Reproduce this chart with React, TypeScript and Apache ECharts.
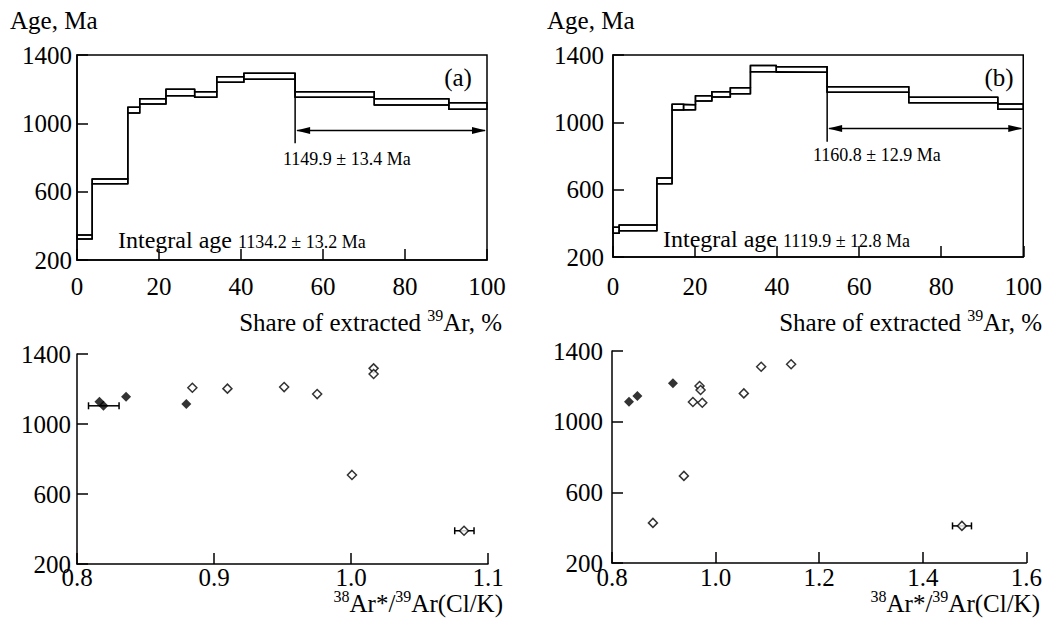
import React, { useEffect, useRef } from "react";
import * as echarts from "echarts";

const FONT = "Liberation Serif";

// ---------- (a) age spectrum ----------
const stepEdgesA = [0, 3.7, 12.4, 15.3, 21.7, 28.7, 34.1, 40.7, 53.2, 72.5, 90.7, 100];
const ageLowA = [323, 647, 1060, 1113, 1162, 1152, 1240, 1258, 1152, 1107, 1082];
const ageHighA = [346, 674, 1094, 1144, 1199, 1185, 1273, 1293, 1185, 1144, 1121];
// plateau: [start %, end %, arrow age, line top age, line bottom age]
const plateauA = [53.2, 100, 958, 1293, 883];

// ---------- (b) age spectrum ----------
const stepEdgesB = [0, 1.5, 10.7, 14.4, 17.2, 20.1, 24.1, 28.6, 33.5, 39.8, 52.2, 72.1, 93.8, 100];
const ageLowB = [341, 356, 635, 1073, 1075, 1127, 1150, 1170, 1301, 1297, 1178, 1117, 1077];
const ageHighB = [376, 390, 669, 1107, 1105, 1158, 1182, 1206, 1337, 1330, 1212, 1149, 1109];
const plateauB = [52.2, 100, 964, 1330, 885];

// ---------- (c) correlation, sample a ----------
const filledXC = [0.8164, 0.8193, 0.8358, 0.8798];
const filledYC = [1127, 1104, 1156, 1114];
const openXC = [0.8842, 0.9098, 0.9512, 0.9753, 1.0165, 1.0165, 1.0007, 1.0825];
const openYC = [1207, 1202, 1211, 1171, 1318, 1286, 709, 390];
const errLoC = [0.8084, 1.0757];
const errHiC = [0.8307, 1.0898];
const errYC = [1104, 390];

// ---------- (d) correlation, sample b ----------
const filledXD = [0.8328, 0.849, 0.9176];
const filledYD = [1113, 1145, 1217];
const openXD = [0.879, 0.9388, 0.9562, 0.969, 0.971, 0.9743, 1.0545, 1.088, 1.1458, 1.4755];
const openYD = [427, 693, 1111, 1202, 1179, 1107, 1160, 1311, 1325, 410];
const errLoD = [1.4574];
const errHiD = [1.494];
const errYD = [410];

const ageTicks = { min: 200, max: 1400, interval: 400 };

// axis titles: [text, isSuperscript]
const titleTop: [string, boolean][] = [["Share of extracted ", false], ["39", true], ["Ar, %", false]];
const titleBottom: [string, boolean][] = [["38", true], ["Ar*/", false], ["39", true], ["Ar(Cl/K)", false]];

const stepData = (edges: number[], lo: number[], hi: number[]) =>
  lo.map((l, i) => [edges[i], edges[i + 1], l, hi[i]]);

// continuous step envelope (used with step: "end")
const envelope = (edges: number[], vals: number[]) => {
  const pts = vals.map((v, i) => [edges[i], v]);
  pts.push([edges[edges.length - 1], vals[vals.length - 1]]);
  return pts;
};

const zip = (xs: number[], ys: number[]) => xs.map((x, i) => [x, ys[i]]);

const stepRender = (params: any, api: any) => {
  const p0 = api.coord([api.value(0), api.value(3)]);
  const p1 = api.coord([api.value(1), api.value(2)]);
  return {
    type: "rect",
    shape: { x: p0[0], y: p0[1], width: p1[0] - p0[0], height: p1[1] - p0[1] },
    style: { fill: "none", stroke: "#000", lineWidth: 1.5 },
  };
};

const plateauRender = (params: any, api: any) => {
  const s = api.value(0), e = api.value(1), ya = api.value(2), yt = api.value(3), yb = api.value(4);
  const top = api.coord([s, yt]);
  const bot = api.coord([s, yb]);
  const a0 = api.coord([s, ya]);
  const a1 = api.coord([e, ya]);
  const L = 15, H = 3.5;
  const st = { stroke: "#000", lineWidth: 1.5 };
  return {
    type: "group",
    children: [
      { type: "line", shape: { x1: top[0], y1: top[1], x2: bot[0], y2: bot[1] }, style: st },
      { type: "line", shape: { x1: a0[0] + 2, y1: a0[1], x2: a1[0] - 2, y2: a1[1] }, style: st },
      {
        type: "polygon",
        shape: { points: [[a0[0] + 1, a0[1]], [a0[0] + L, a0[1] - H], [a0[0] + L, a0[1] + H]] },
        style: { fill: "#000" },
      },
      {
        type: "polygon",
        shape: { points: [[a1[0] - 1, a1[1]], [a1[0] - L, a1[1] - H], [a1[0] - L, a1[1] + H]] },
        style: { fill: "#000" },
      },
    ],
  };
};

const errRender = (params: any, api: any) => {
  const p0 = api.coord([api.value(0), api.value(2)]);
  const p1 = api.coord([api.value(1), api.value(2)]);
  const st = { stroke: "#000", lineWidth: 1.5 };
  const c = 3.5;
  return {
    type: "group",
    children: [
      { type: "line", shape: { x1: p0[0], y1: p0[1], x2: p1[0], y2: p1[1] }, style: st },
      { type: "line", shape: { x1: p0[0], y1: p0[1] - c, x2: p0[0], y2: p0[1] + c }, style: st },
      { type: "line", shape: { x1: p1[0], y1: p1[1] - c, x2: p1[0], y2: p1[1] + c }, style: st },
    ],
  };
};

const fmtInt = (v: number) => String(Math.round(v));
const fmt1 = (v: number) => v.toFixed(1);

const axisCommon = (labelMargin: number, fmt: (v: number) => string) => ({
  axisLine: { show: true, onZero: false, lineStyle: { color: "#000", width: 1.5 } },
  axisTick: { show: true, inside: true, length: 11, lineStyle: { color: "#000", width: 1.5 } },
  splitLine: { show: false },
  axisLabel: {
    color: "#000",
    fontSize: 25,
    fontFamily: FONT,
    margin: labelMargin,
    formatter: fmt,
  },
});

const textEl = (x: number, y: number, text: string, size: number, align = "left", vAlign = "middle") => ({
  type: "text",
  x,
  y,
  style: { text, fontSize: size, fontFamily: FONT, fill: "#000", align, verticalAlign: vAlign },
});

const lineSeries = (axis: number, data: number[][]) => ({
  type: "line",
  xAxisIndex: axis,
  yAxisIndex: axis,
  step: "end",
  symbol: "none",
  lineStyle: { color: "#000", width: 1.5 },
  data,
  z: 3,
});

export default function App() {
  const ref = useRef<HTMLDivElement>(null);
  useEffect(() => {
    if (!ref.current) return;
    const ctx = document.createElement("canvas").getContext("2d") as CanvasRenderingContext2D;
    const measure = (t: string, size: number) => {
      ctx.font = `${size}px "${FONT}"`;
      return ctx.measureText(t).width;
    };
    // right-aligned title with superscripts
    const supTitle = (xRight: number, yMid: number, pieces: [string, boolean][]) => {
      const sizes = pieces.map(([, sup]) => (sup ? 16 : 25));
      const widths = pieces.map(([t], i) => measure(t, sizes[i]));
      let x = xRight - widths.reduce((a, b) => a + b, 0);
      return pieces.map(([t, sup], i) => {
        const el = textEl(x, sup ? yMid - 7 : yMid, t, sizes[i]);
        x += widths[i];
        return el;
      });
    };

    const chart = echarts.init(ref.current, undefined, { renderer: "svg" });
    const grids = [
      { left: 77, top: 55, width: 410, height: 205, show: true, borderColor: "#000", borderWidth: 1.5 },
      { left: 613, top: 55, width: 411, height: 202, show: true, borderColor: "#000", borderWidth: 1.5 },
      { left: 77, top: 354, width: 411, height: 210 },
      { left: 612, top: 351, width: 415, height: 212 },
    ];
    const option: any = {
      animation: false,
      backgroundColor: "#fff",
      textStyle: { fontFamily: FONT },
      grid: grids,
      xAxis: [
        { gridIndex: 0, type: "value", min: 0, max: 100, interval: 20, ...axisCommon(14, fmtInt) },
        { gridIndex: 1, type: "value", min: 0, max: 100, interval: 20, ...axisCommon(17, fmtInt) },
        { gridIndex: 2, type: "value", min: 0.8, max: 1.1, interval: 0.1, ...axisCommon(1, fmt1) },
        { gridIndex: 3, type: "value", min: 0.8, max: 1.6, interval: 0.2, ...axisCommon(2, fmt1) },
      ],
      yAxis: [
        { gridIndex: 0, type: "value", ...ageTicks, ...axisCommon(5, fmtInt) },
        { gridIndex: 1, type: "value", ...ageTicks, ...axisCommon(9, fmtInt) },
        { gridIndex: 2, type: "value", ...ageTicks, ...axisCommon(6, fmtInt) },
        { gridIndex: 3, type: "value", ...ageTicks, ...axisCommon(9, fmtInt) },
      ],
      series: [
        { type: "custom", xAxisIndex: 0, yAxisIndex: 0, renderItem: stepRender, data: stepData(stepEdgesA, ageLowA, ageHighA), z: 3 },
        { type: "custom", xAxisIndex: 1, yAxisIndex: 1, renderItem: stepRender, data: stepData(stepEdgesB, ageLowB, ageHighB), z: 3 },
        lineSeries(0, envelope(stepEdgesA, ageHighA)),
        lineSeries(0, envelope(stepEdgesA, ageLowA)),
        lineSeries(1, envelope(stepEdgesB, ageHighB)),
        lineSeries(1, envelope(stepEdgesB, ageLowB)),
        { type: "custom", xAxisIndex: 0, yAxisIndex: 0, renderItem: plateauRender, data: [plateauA], z: 3 },
        { type: "custom", xAxisIndex: 1, yAxisIndex: 1, renderItem: plateauRender, data: [plateauB], z: 3 },
        {
          type: "custom", xAxisIndex: 2, yAxisIndex: 2, renderItem: errRender, z: 3,
          data: errLoC.map((l, i) => [l, errHiC[i], errYC[i]]),
        },
        {
          type: "custom", xAxisIndex: 3, yAxisIndex: 3, renderItem: errRender, z: 3,
          data: errLoD.map((l, i) => [l, errHiD[i], errYD[i]]),
        },
        {
          type: "scatter", xAxisIndex: 2, yAxisIndex: 2, symbol: "diamond", symbolSize: 10, z: 4,
          itemStyle: { color: "#000" }, data: zip(filledXC, filledYC),
        },
        {
          type: "scatter", xAxisIndex: 2, yAxisIndex: 2, symbol: "diamond", symbolSize: 9, z: 4,
          itemStyle: { color: "#fff", borderColor: "#000", borderWidth: 1.5 }, data: zip(openXC, openYC),
        },
        {
          type: "scatter", xAxisIndex: 3, yAxisIndex: 3, symbol: "diamond", symbolSize: 10, z: 4,
          itemStyle: { color: "#000" }, data: zip(filledXD, filledYD),
        },
        {
          type: "scatter", xAxisIndex: 3, yAxisIndex: 3, symbol: "diamond", symbolSize: 9, z: 4,
          itemStyle: { color: "#fff", borderColor: "#000", borderWidth: 1.5 }, data: zip(openXD, openYD),
        },
      ],
      graphic: [
        textEl(10, 20, "Age, Ma", 25),
        textEl(547, 20, "Age, Ma", 25),
        textEl(458, 77, "(a)", 25, "center"),
        textEl(999, 77, "(b)", 25, "center"),
        textEl(283, 159, "1149.9 ± 13.4 Ma", 18),
        textEl(813, 155, "1160.8 ± 12.9 Ma", 18),
        textEl(118, 252, "Integral age", 24, "left", "bottom"),
        textEl(238, 251, "1134.2 ± 13.2 Ma", 18, "left", "bottom"),
        textEl(663, 251, "Integral age", 24, "left", "bottom"),
        textEl(783, 250, "1119.9 ± 12.8 Ma", 18, "left", "bottom"),
        ...supTitle(502, 322, titleTop),
        ...supTitle(1042, 322, titleTop),
        ...supTitle(503, 603, titleBottom),
        ...supTitle(1040, 603, titleBottom),
      ],
    };
    chart.setOption(option);
    return () => chart.dispose();
  }, []);
  return (
    <div
      ref={ref}
      style={{ position: "absolute", left: 0, top: 0, width: 1045, height: 631, background: "#fff" }}
    />
  );
}
